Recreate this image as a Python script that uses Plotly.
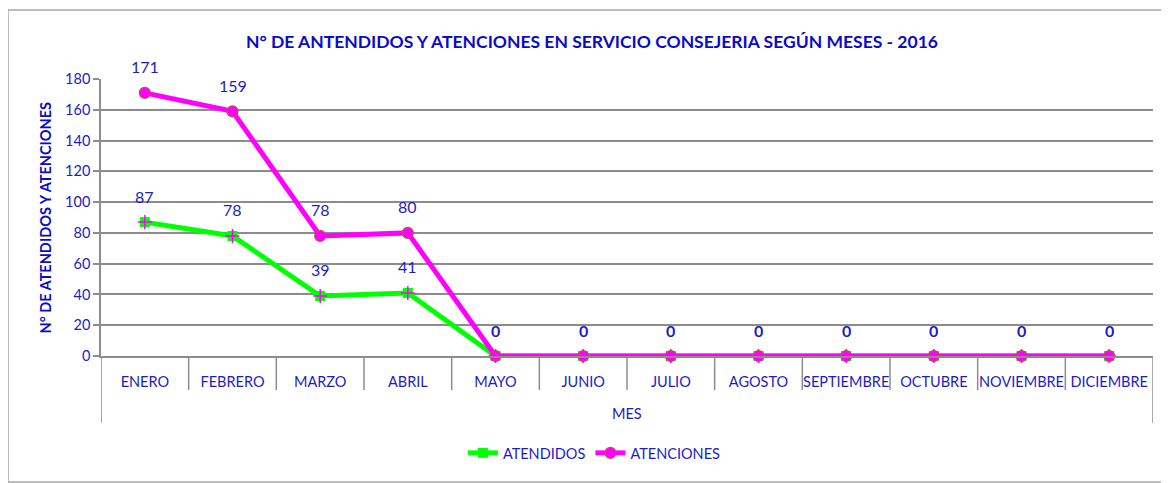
import plotly.graph_objects as go

meses = ["ENERO", "FEBRERO", "MARZO", "ABRIL", "MAYO", "JUNIO", "JULIO",
         "AGOSTO", "SEPTIEMBRE", "OCTUBRE", "NOVIEMBRE", "DICIEMBRE"]
atendidos = [87, 78, 39, 41, 0, 0, 0, 0, 0, 0, 0, 0]
atenciones = [171, 159, 78, 80, 0, 0, 0, 0, 0, 0, 0, 0]
y_ticks = [0, 20, 40, 60, 80, 100, 120, 140, 160, 180]

BLUE = "#1c1cc8"
TITLE_BLUE = "#0a0ac8"
GRID = "#8c8c8c"
FONT = "Lato"

fig = go.Figure()
fig.add_trace(go.Scatter(
    x=meses, y=atendidos, name="ATENDIDOS", mode="lines+markers",
    line=dict(color="#00ff00", width=5),
    marker=dict(symbol="square", size=10, color="#00ff00"),
    cliponaxis=False))
fig.add_trace(go.Scatter(
    x=meses, y=atendidos, showlegend=False, mode="markers", hoverinfo="skip",
    marker=dict(symbol="cross-thin", size=10, color="#ff00ff",
                line=dict(color="#ff00ff", width=1.5)),
    cliponaxis=False))
fig.add_trace(go.Scatter(
    x=meses, y=atenciones, name="ATENCIONES", mode="lines+markers",
    line=dict(color="#ff00ff", width=5),
    marker=dict(symbol="circle", size=11, color="#ff00ff",
                line=dict(color="#c0504d", width=1.2)),
    cliponaxis=False))

annotations = []
for series in (atendidos, atenciones):
    for m, v in zip(meses, series):
        if v == 0 and series is atendidos:
            continue
        annotations.append(dict(
            x=m, y=v, xref="x", yref="y", text=("<b>0</b>" if v == 0 else str(v)),
            showarrow=False, yshift=26,
            font=dict(family=FONT, size=16, color=BLUE)))

annotations.append(dict(
    x=0.5, y=-0.206, xref="paper", yref="paper", xanchor="center", yanchor="middle",
    text="MES", showarrow=False,
    font=dict(family=FONT, size=14.5, color=BLUE)))
annotations.append(dict(
    x=-0.0532, y=0.5, xref="paper", yref="paper", xanchor="center", yanchor="middle",
    text="<b>N° DE ATENDIDOS Y ATENCIONES</b>",
    textangle=-90, showarrow=False, font=dict(family=FONT, size=14.5, color=TITLE_BLUE)))

shapes = []
n = len(meses)
for i in range(n + 1):
    bottom = -0.242 if i in (0, n) else -0.123
    shapes.append(dict(type="line", xref="x", yref="paper", x0=i - 0.5, x1=i - 0.5,
                       y0=0, y1=bottom, line=dict(color=GRID, width=1.5)))
shapes.append(dict(type="rect", xref="paper", yref="paper", x0=-0.0884, x1=1.0143,
                   y0=-0.455, y1=1.249, line=dict(color="#a6a6a6", width=1.5)))

fig.update_layout(
    width=1161, height=475,
    margin=dict(l=93, r=16, t=71, b=127),
    paper_bgcolor="white", plot_bgcolor="white",
    title=dict(text="<b>N° DE ANTENDIDOS Y ATENCIONES EN SERVICIO CONSEJERIA SEGÚN MESES - 2016</b>",
               x=0.503, xanchor="center", y=0.928, yanchor="middle",
               font=dict(family=FONT, size=17.5, color=TITLE_BLUE)),
    xaxis=dict(type="category", range=[-0.5, n - 0.5], showgrid=False,
               showline=True, linecolor=GRID, linewidth=1.5, ticks="",
               tickfont=dict(family=FONT, size=14.5, color=BLUE),
               ticklabelstandoff=12, fixedrange=True),
    yaxis=dict(range=[0, 180], tickvals=y_ticks, showgrid=True, gridcolor=GRID, gridwidth=1.5,
               showline=True, linecolor=GRID, linewidth=1.5, ticks="outside", ticklen=6,
               tickcolor=GRID, tickwidth=1.5, zeroline=False,
               tickfont=dict(family=FONT, size=14.5, color=BLUE)),
    legend=dict(orientation="h", x=0.469, xanchor="center", y=-0.35, yanchor="middle",
                font=dict(family=FONT, size=14.5, color=BLUE), itemwidth=30),
    annotations=annotations, shapes=shapes,
)

fig.write_html("out.html")
